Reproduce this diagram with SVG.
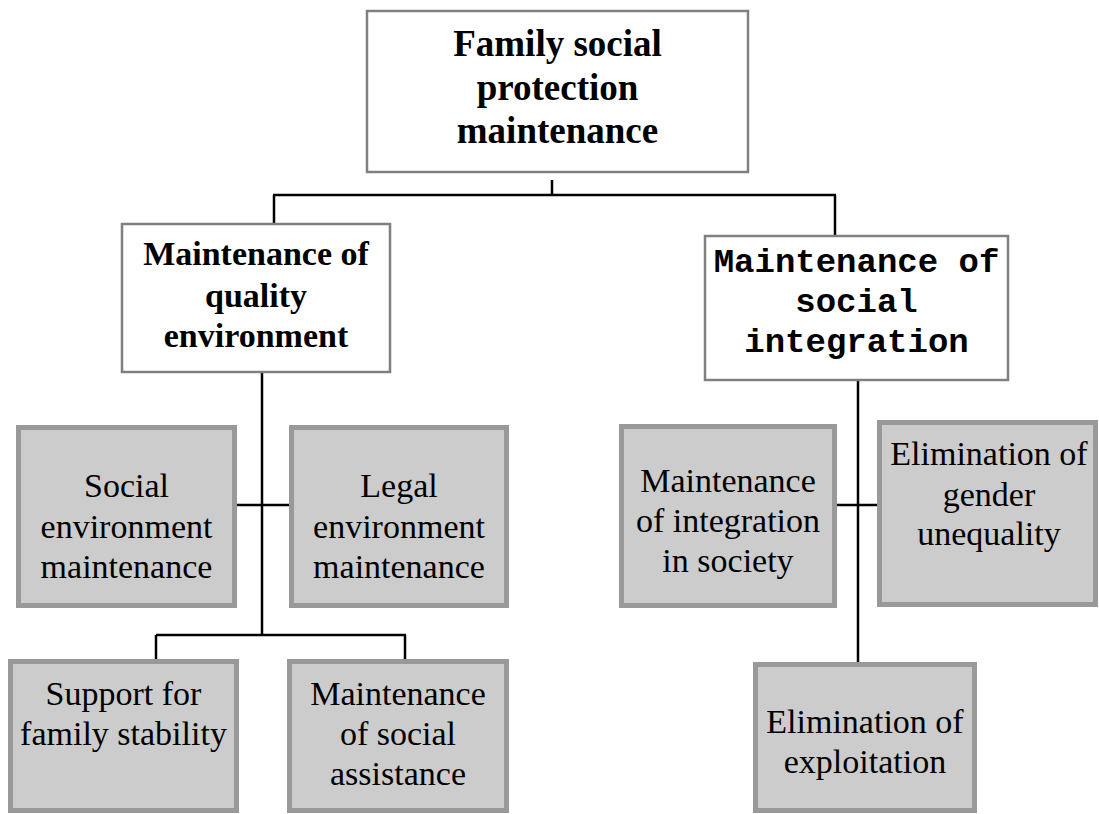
<svg xmlns="http://www.w3.org/2000/svg" width="1099" height="814" viewBox="0 0 1099 814">
<style>
.wbox{fill:#ffffff;stroke:#808080;stroke-width:2.5}
.gbox{fill:#cccccc;stroke:#999999;stroke-width:5}
.conn line{stroke:#000000;stroke-width:2.5}
.tb{font-weight:bold;fill:#000;text-anchor:middle}
.tm{font-weight:bold;font-size:34px;fill:#000;text-anchor:middle}
.tr{font-size:34px;fill:#000;text-anchor:middle}
</style>
<rect width="1099" height="814" fill="#ffffff"/>
<g id="connectors" class="conn">
<line x1="552" y1="180" x2="552" y2="195"/>
<line x1="273" y1="195" x2="836" y2="195"/>
<line x1="274" y1="195" x2="274" y2="223"/>
<line x1="835" y1="195" x2="835" y2="235"/>
<line x1="262" y1="373" x2="262" y2="636"/>
<line x1="235" y1="505" x2="290" y2="505"/>
<line x1="156" y1="635" x2="406" y2="635"/>
<line x1="156" y1="635" x2="156" y2="659"/>
<line x1="405" y1="635" x2="405" y2="659"/>
<line x1="858" y1="381" x2="858" y2="662"/>
<line x1="835" y1="505" x2="879" y2="505"/>
</g>
<g id="root" font-family="'Liberation Serif', Tinos, 'Times New Roman', 'DejaVu Serif', serif">
<rect class="wbox" x="367" y="11" width="381" height="161"/>
<text class="tb" font-size="37" x="557.5" y="56">Family social</text>
<text class="tb" font-size="37" x="557.5" y="100">protection</text>
<text class="tb" font-size="37" x="557.5" y="143">maintenance</text>
</g>
<g id="quality" font-family="'Liberation Serif', Tinos, 'Times New Roman', 'DejaVu Serif', serif">
<rect class="wbox" x="122" y="224" width="268" height="148"/>
<text class="tb" font-size="34" x="256" y="265">Maintenance of</text>
<text class="tb" font-size="34" x="256" y="307">quality</text>
<text class="tb" font-size="34" x="256" y="347">environment</text>
</g>
<g id="integration" font-family="'Liberation Mono', Cousine, 'Courier New', 'DejaVu Sans Mono', monospace">
<rect class="wbox" x="705" y="236" width="303" height="144"/>
<text class="tm" x="856.5" y="272">Maintenance of</text>
<text class="tm" x="856.5" y="312">social</text>
<text class="tm" x="856.5" y="352">integration</text>
</g>
<g font-family="'Liberation Serif', Tinos, 'Times New Roman', 'DejaVu Serif', serif">
<g id="social-env">
<rect class="gbox" x="18.5" y="427.5" width="216" height="178"/>
<text class="tr" x="126.5" y="497">Social</text>
<text class="tr" x="126.5" y="538">environment</text>
<text class="tr" x="126.5" y="578">maintenance</text>
</g>
<g id="legal-env">
<rect class="gbox" x="291.5" y="427.5" width="215" height="178"/>
<text class="tr" x="399" y="497">Legal</text>
<text class="tr" x="399" y="538">environment</text>
<text class="tr" x="399" y="578">maintenance</text>
</g>
<g id="family-stability">
<rect class="gbox" x="10.5" y="661.5" width="226" height="149"/>
<text class="tr" x="123.5" y="705">Support for</text>
<text class="tr" x="123.5" y="745">family stability</text>
</g>
<g id="social-assistance">
<rect class="gbox" x="289.5" y="661.5" width="217" height="149"/>
<text class="tr" x="398" y="705">Maintenance</text>
<text class="tr" x="398" y="745">of social</text>
<text class="tr" x="398" y="785">assistance</text>
</g>
<g id="integration-society">
<rect class="gbox" x="621.5" y="426.5" width="213" height="179"/>
<text class="tr" x="728" y="492">Maintenance</text>
<text class="tr" x="728" y="532">of integration</text>
<text class="tr" x="728" y="572">in society</text>
</g>
<g id="gender">
<rect class="gbox" x="879.5" y="422.5" width="216" height="182"/>
<text class="tr" x="989" y="465">Elimination of</text>
<text class="tr" x="989" y="506">gender</text>
<text class="tr" x="989" y="545">unequality</text>
</g>
<g id="exploitation">
<rect class="gbox" x="755.5" y="664.5" width="219" height="146"/>
<text class="tr" x="865" y="733">Elimination of</text>
<text class="tr" x="865" y="773">exploitation</text>
</g>
</g>
</svg>
